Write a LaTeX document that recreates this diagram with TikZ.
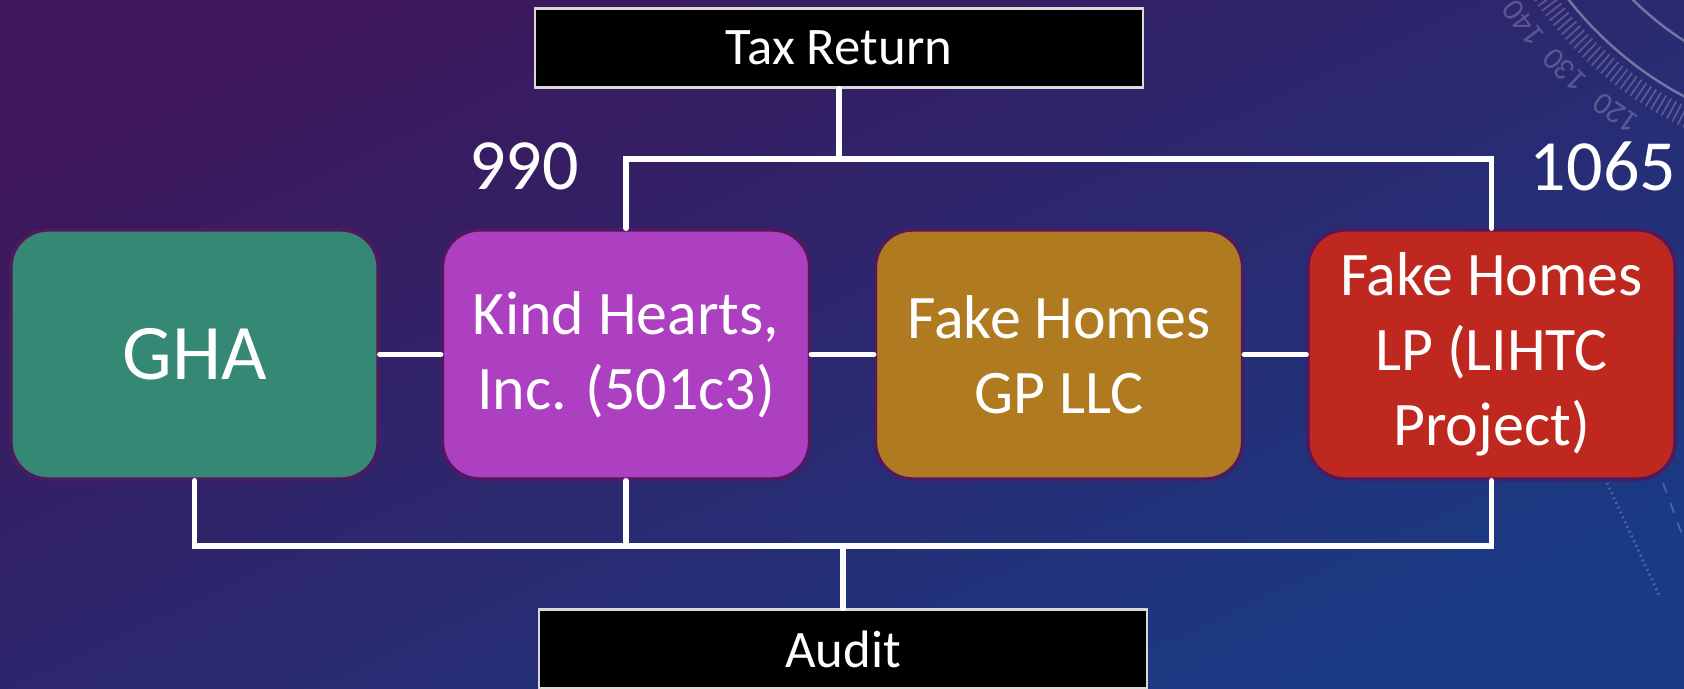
\documentclass[tikz,border=0pt]{standalone}
\usepackage{fontspec}
\setmainfont{Carlito}
\usepackage{tikz}
\usetikzlibrary{calc}
\definecolor{skytop}{RGB}{62,22,90}
\definecolor{skybot}{RGB}{26,58,132}
\definecolor{ghagreen}{RGB}{53,136,115}
\definecolor{khpurple}{RGB}{172,64,192}
\definecolor{gpgold}{RGB}{176,122,32}
\definecolor{lpred}{RGB}{190,40,30}
\definecolor{boxedge}{RGB}{80,25,95}
\newcommand{\widthentity}{3.67cm}
\newcommand{\heightentity}{2.49cm}
\tikzset{
    entity/.style={draw=boxedge, line width=1pt, rounded corners=0.37cm,
        minimum width=\widthentity, minimum height=\heightentity,
        text=white, align=center, inner sep=2pt,
        font=\fontsize{17.6}{21.3}\selectfont},
    filing/.style={fill=black, draw=white!85!black, line width=0.7pt,
        minimum width=6.08cm, minimum height=0.79cm, text=white,
        font=\fontsize{15}{18}\selectfont},
    formno/.style={text=white, font=\fontsize{20.5}{24}\selectfont},
    link/.style={white, line width=1.6pt, line cap=round},
    dial/.style={white, opacity=0.22, line width=0.5pt},
    ring/.style={white, opacity=0.35, line width=0.7pt}
}

\begin{document}
\begin{tikzpicture}[x=0.01cm, y=-0.01cm]
    \useasboundingbox (0,0) rectangle (1684,689);
    % backdrop
    \shade[top color=skytop, bottom color=skybot, shading angle=25]
        (0,0) rectangle (1684,689);

    % faint dial in the upper right corner
    \begin{scope}[shift={(1855,-225)}]
        \draw[ring] (160:364) arc[start angle=160, end angle=110, radius=364];
        \draw[ring] (160:316) arc[start angle=160, end angle=110, radius=316];
        \foreach \a in {112.4,113.3,...,150} {
            \draw[dial] (\a:372) -- (\a:392);
        }
        \foreach \a/\v in {143.2/140, 134.5/130, 125.2/120} {
            \node[dial, rotate=270-\a, font=\fontsize{9}{10}\selectfont] at (\a:414) {\v};
        }
    \end{scope}
    \draw[dial, densely dotted, line width=0.8pt] (1607,483) -- (1660,597);
    \draw[dial, dashed] (1663,483) -- (1684,540);

    % filings
    \node[filing] (tax) at (839,48) {Tax Return};
    \node[filing] (audit) at (843,649) {Audit};

    % entities
    \node[entity, fill=ghagreen, font=\fontsize{22.4}{26}\selectfont] (gha) at (194.5,354.5) {GHA};
    \node[entity, fill=khpurple] (kind) at (626,354.5) {Kind Hearts,\\Inc. (501c3)};
    \node[entity, fill=gpgold] (gp) at (1059,354.5) {Fake Homes\\GP LLC};
    \node[entity, fill=lpred] (lp) at (1491.5,354.5) {Fake Homes\\LP (LIHTC\\Project)};

    \node[formno] (f990) at (524,166) {990};
    \node[formno] (f1065) at (1603,166) {1065};

    % ownership chain
    \draw[link] (gha.east) -- (kind.west);
    \draw[link] (kind.east) -- (gp.west);
    \draw[link] (gp.east) -- (lp.west);

    % tax return bracket
    \coordinate (taxbar) at (839,159);
    \draw[link] (tax.south) -- (taxbar);
    \draw[link] (kind.north) |- (taxbar) -| (lp.north);

    % audit bracket
    \coordinate (auditbar) at (843,546);
    \draw[link] (gha.south) |- (auditbar) -| (lp.south);
    \draw[link] (kind.south) -- (kind.south |- auditbar);
    \draw[link] (auditbar) -- (audit.north);
\end{tikzpicture}
\end{document}
